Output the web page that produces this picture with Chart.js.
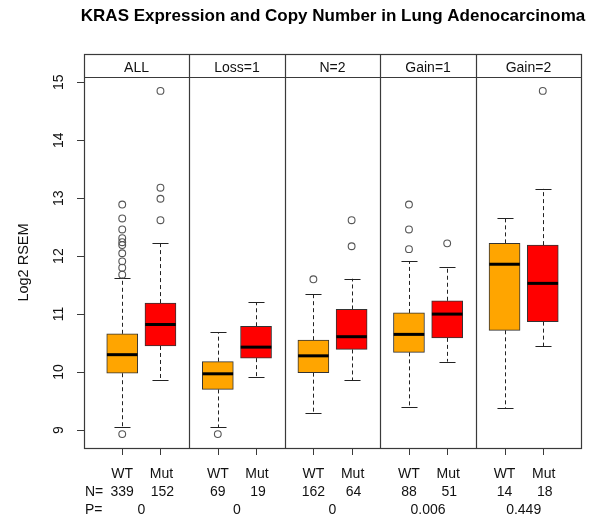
<!DOCTYPE html>
<html>
<head>
<meta charset="utf-8">
<script src="https://cdn.jsdelivr.net/npm/chart.js@4.4.1/dist/chart.umd.min.js"></script>
<style>
html,body{margin:0;padding:0;background:#fff;}
canvas{display:block;}
</style>
</head>
<body>
<canvas id="c" width="599" height="515"></canvas>
<script>
// ---- data ----
const panels = ['ALL', 'Loss=1', 'N=2', 'Gain=1', 'Gain=2'];
const groupLabels = ['WT', 'Mut'];
const positions = [1, 2, 3.5, 4.5, 6, 7, 8.5, 9.5, 11, 12];
const boxColors = ['#FFA500', '#FF0000', '#FFA500', '#FF0000', '#FFA500', '#FF0000', '#FFA500', '#FF0000', '#FFA500', '#FF0000'];
const whiskerLow  = [9.05, 9.86, 9.05, 9.91, 9.30, 9.86, 9.40, 10.18, 9.38, 10.45];
const q1          = [9.98, 10.45, 9.70, 10.24, 9.99, 10.39, 10.34, 10.59, 10.72, 10.87];
const medians     = [10.30, 10.82, 9.97, 10.43, 10.28, 10.61, 10.65, 11.00, 11.86, 11.53];
const q3          = [10.66, 11.19, 10.18, 10.79, 10.55, 11.08, 11.02, 11.23, 12.22, 12.19];
const whiskerHigh = [11.63, 12.22, 10.69, 11.20, 11.35, 11.61, 11.91, 11.81, 12.65, 13.16];
const outliers = [
  [8.93, 11.68, 11.80, 11.91, 12.05, 12.19, 12.24, 12.31, 12.46, 12.65, 12.89],
  [12.62, 12.99, 13.18, 14.85],
  [8.93],
  [],
  [11.60],
  [12.17, 12.62],
  [12.12, 12.46, 12.89],
  [12.22],
  [],
  [14.85]
];
const nCounts = [339, 152, 69, 19, 162, 64, 88, 51, 14, 18];
const pValues = ['0', '0', '0', '0.006', '0.449'];
const panelEdges = [0, 2.75, 5.25, 7.75, 10.25, 13];
const yTicks = [9, 10, 11, 12, 13, 14, 15];
const titleText = 'KRAS Expression and Copy Number in Lung Adenocarcinoma';
const yTitle = 'Log2 RSEM';

// ---- build datasets ----
const boxData = positions.map((p, i) => ({x: p, y: [q1[i], q3[i]]}));
const outlierData = [];
outliers.forEach((arr, i) => arr.forEach(v => outlierData.push({x: positions[i], y: v})));

const FONT = '"Liberation Sans", Arial, Helvetica, sans-serif';
const LINE = '#3a3a3a';

const drawPlugin = {
  id: 'boxextras',
  beforeDatasetsDraw(chart) {
    const {ctx, scales: {x, y}} = chart;
    ctx.save();
    positions.forEach((p, i) => {
      const px = Math.round(x.getPixelForValue(p)) + 0.5;
      const capHalf = (x.getPixelForValue(0.21) - x.getPixelForValue(0));
      ctx.strokeStyle = '#222';
      ctx.lineWidth = 1;
      ctx.setLineDash([4, 3]);
      ctx.beginPath();
      ctx.moveTo(px, y.getPixelForValue(q3[i]));
      ctx.lineTo(px, y.getPixelForValue(whiskerHigh[i]));
      ctx.moveTo(px, y.getPixelForValue(q1[i]));
      ctx.lineTo(px, y.getPixelForValue(whiskerLow[i]));
      ctx.stroke();
      ctx.setLineDash([]);
      ctx.beginPath();
      const yh = Math.round(y.getPixelForValue(whiskerHigh[i])) + 0.5;
      const yl = Math.round(y.getPixelForValue(whiskerLow[i])) + 0.5;
      ctx.moveTo(px - capHalf, yh); ctx.lineTo(px + capHalf, yh);
      ctx.moveTo(px - capHalf, yl); ctx.lineTo(px + capHalf, yl);
      ctx.stroke();
    });
    ctx.restore();
  },
  afterDatasetsDraw(chart) {
    const {ctx, chartArea: ca, scales: {x, y}} = chart;
    ctx.save();
    // medians
    positions.forEach((p, i) => {
      const px = x.getPixelForValue(p);
      const half = x.getPixelForValue(0.4) - x.getPixelForValue(0);
      const py = y.getPixelForValue(medians[i]);
      ctx.strokeStyle = '#000';
      ctx.lineWidth = 3;
      ctx.beginPath();
      ctx.moveTo(px - half, py); ctx.lineTo(px + half, py);
      ctx.stroke();
    });
    // panels & strip
    const stripTop = ca.top - 23;
    ctx.strokeStyle = LINE;
    ctx.lineWidth = 1.2;
    ctx.strokeRect(ca.left + 0.5, stripTop + 0.5, ca.right - ca.left, ca.bottom - stripTop);
    ctx.beginPath();
    ctx.moveTo(ca.left, ca.top + 0.5); ctx.lineTo(ca.right, ca.top + 0.5);
    panelEdges.slice(1, -1).forEach(e => {
      const px = Math.round(x.getPixelForValue(e)) + 0.5;
      ctx.moveTo(px, stripTop); ctx.lineTo(px, ca.bottom);
    });
    ctx.stroke();
    ctx.fillStyle = '#111';
    ctx.font = '14px ' + FONT;
    ctx.textAlign = 'center';
    ctx.textBaseline = 'middle';
    panels.forEach((lab, k) => {
      const cx = (x.getPixelForValue(panelEdges[k]) + x.getPixelForValue(panelEdges[k + 1])) / 2;
      ctx.fillText(lab, cx, stripTop + 14);
    });
    // y axis ticks
    ctx.strokeStyle = LINE;
    ctx.lineWidth = 1;
    ctx.beginPath();
    yTicks.forEach(t => {
      const py = Math.round(y.getPixelForValue(t)) + 0.5;
      ctx.moveTo(ca.left - 7, py); ctx.lineTo(ca.left, py);
    });
    ctx.stroke();
    yTicks.forEach(t => {
      const py = y.getPixelForValue(t);
      ctx.save();
      ctx.translate(59, py);
      ctx.rotate(-Math.PI / 2);
      ctx.fillText(String(t), 0, 0);
      ctx.restore();
    });
    ctx.save();
    ctx.font = '14.5px ' + FONT;
    ctx.translate(24, (ca.top + ca.bottom) / 2);
    ctx.rotate(-Math.PI / 2);
    ctx.fillText(yTitle, 0, 0);
    ctx.restore();
    // x ticks
    ctx.beginPath();
    positions.forEach(p => {
      const px = Math.round(x.getPixelForValue(p)) + 0.5;
      ctx.moveTo(px, ca.bottom); ctx.lineTo(px, ca.bottom + 7);
    });
    ctx.stroke();
    positions.forEach((p, i) => {
      const px = x.getPixelForValue(p);
      ctx.fillText(groupLabels[i % 2], px + (i % 2 ? 1 : 0), 474);
      ctx.fillText(String(nCounts[i]), px + (i % 2 ? 2 : 0), 492);
    });
    ctx.textAlign = 'left';
    ctx.fillText('N=', 85, 492);
    ctx.fillText('P=', 85, 510);
    ctx.textAlign = 'center';
    pValues.forEach((pv, k) => {
      const cx = (x.getPixelForValue(positions[2 * k]) + x.getPixelForValue(positions[2 * k + 1])) / 2;
      ctx.fillText(pv, cx, 510);
    });
    // title
    ctx.font = 'bold 17px ' + FONT;
    ctx.fillStyle = '#000';
    ctx.fillText(titleText, 333, 16);
    ctx.restore();
  }
};

new Chart(document.getElementById('c'), {
  data: {
    datasets: [
      {
        type: 'bar',
        data: boxData,
        backgroundColor: boxColors,
        borderColor: '#333',
        borderWidth: 1,
        borderSkipped: false,
        barThickness: 31,
        order: 2
      },
      {
        type: 'scatter',
        data: outlierData,
        pointRadius: 3.4,
        pointBackgroundColor: 'rgba(255,255,255,0)',
        pointBorderColor: '#555',
        pointBorderWidth: 1.1,
        order: 1
      }
    ]
  },
  options: {
    responsive: false,
    animation: false,
    events: [],
    layout: {padding: {left: 84, right: 18, top: 77, bottom: 67}},
    plugins: {legend: {display: false}, tooltip: {enabled: false}, title: {display: false}},
    scales: {
      x: {type: 'linear', min: 0, max: 13, offset: false, display: false},
      y: {type: 'linear', min: 8.69, max: 15.09, display: false}
    }
  },
  plugins: [drawPlugin]
});
</script>
</body>
</html>
